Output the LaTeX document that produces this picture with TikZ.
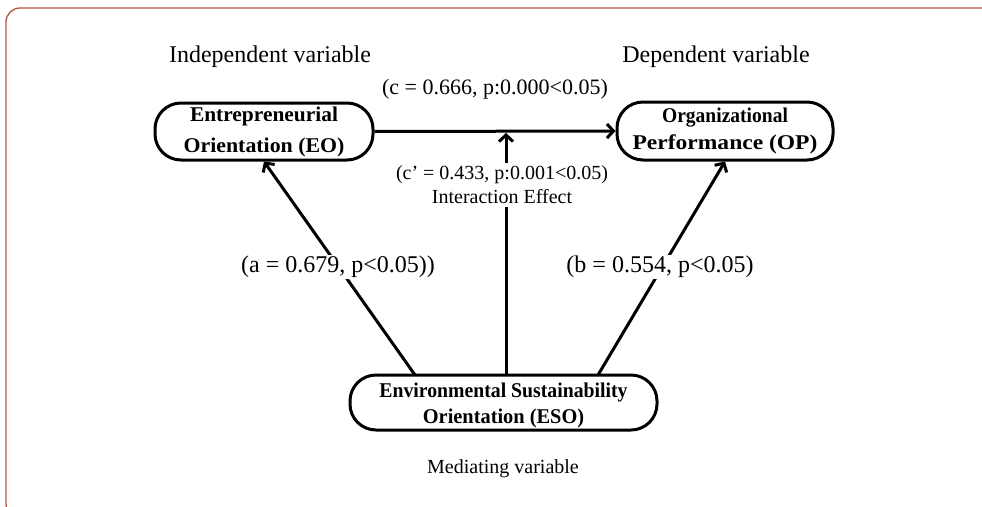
\documentclass[tikz,border=0pt]{standalone}
\usepackage{fontspec}
\usepackage{graphicx}
\setmainfont{Liberation Serif}
\usetikzlibrary{arrows.meta,calc}
\definecolor{framebrown}{RGB}{178,88,58}
\newcommand{\hs}[2]{\scalebox{#1}[1]{#2}}
\begin{document}
\begin{tikzpicture}[x=1pt,y=-1pt,
  box/.style={draw,line width=3pt,rounded corners=26pt,align=center,inner sep=0pt},
  lbl/.style={inner sep=1pt,align=center},
  wlbl/.style={lbl,fill=white},
  conn/.style={line width=3pt,-{Straight Barb[length=6.5pt,width=14pt,line width=3pt]}}]
\useasboundingbox (0,0) rectangle (982,506);
\begin{scope}
\clip (0,0) rectangle (982,506);
\draw[framebrown,line width=1.3pt,rounded corners=14pt] (6,8) rectangle (1010,518);
\end{scope}
\node[box,minimum width=218pt,minimum height=57pt,font=\bfseries\fontsize{21}{31}\selectfont] (EO) at (264,131.5) {\hs{1.02}{Entrepreneurial}\\\hs{1.04}{Orientation (EO)}};
\node[box,minimum width=216pt,minimum height=58pt,font=\bfseries\fontsize{21}{27}\selectfont] (OP) at (725,131) {\hs{0.93}{Organizational}\\\hs{1.12}{Performance (OP)}};
\node[box,minimum width=307pt,minimum height=55pt,font=\bfseries\fontsize{21}{26}\selectfont] (ESO) at (503.5,402.5) {\raisebox{-3pt}[\height][\depth]{\begin{tabular}{@{}c@{}}\hs{0.94}{Environmental Sustainability}\\\hs{0.97}{Orientation (ESO)}\end{tabular}}};
\coordinate (m) at (506,133);
\coordinate (ma) at (415,375);
\coordinate (mb) at (598,375);
\draw[conn] (EO.east) -- (OP.west);
\draw[conn] (m |- ESO.north) -- (m);
\draw[conn] (ma) -- (EO.south);
\draw[conn] (mb) -- (OP.south);
\node[lbl,font=\fontsize{24}{28}\selectfont] (iv) at (270,57) {Independent variable};
\node[lbl,font=\fontsize{24}{28}\selectfont] (dv) at (716,57) {Dependent variable};
\node[lbl,font=\fontsize{22}{26}\selectfont] (c) at (495,89) {(c = 0.666, p:0.000<0.05)};
\node[wlbl,inner sep=3pt,font=\fontsize{20}{24}\selectfont] (cp) at (502,185) {(c’ = 0.433, p:0.001<0.05)\\Interaction Effect};
\node[wlbl,font=\fontsize{24}{28}\selectfont] (a) at (338,267) {(a = 0.679, p<0.05))};
\node[wlbl,font=\fontsize{24}{28}\selectfont] (b) at (660,267) {(b = 0.554, p<0.05)};
\node[lbl,font=\fontsize{20}{24}\selectfont] (med) at (503,469) {Mediating variable};
\end{tikzpicture}
\end{document}
